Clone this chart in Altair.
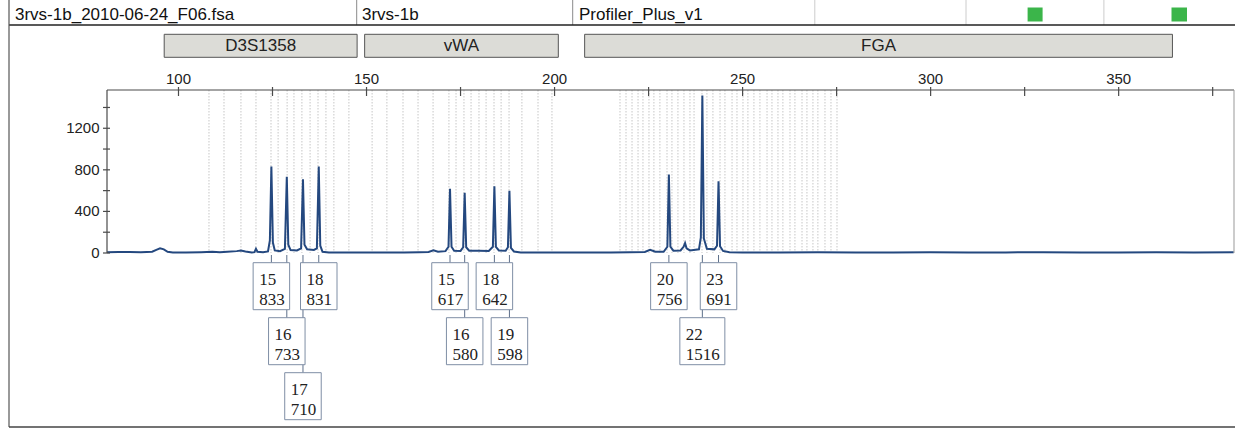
import altair as alt
import pandas as pd

# ---------------- data ----------------
file_name = "3rvs-1b_2010-06-24_F06.fsa"
sample_name = "3rvs-1b"
panel_name = "Profiler_Plus_v1"

marker_names = ["D3S1358", "vWA", "FGA"]
marker_start = [96.2, 149.5, 208.0]
marker_end = [147.5, 201.0, 364.3]

allele_marker = ["D3S1358", "D3S1358", "D3S1358", "D3S1358",
                 "vWA", "vWA", "vWA", "vWA",
                 "FGA", "FGA", "FGA"]
allele_names = ["15", "16", "17", "18", "15", "16", "18", "19", "20", "22", "23"]
allele_bp = [124.7, 128.8, 133.1, 137.3, 172.2, 176.1, 184.0, 188.0, 230.4, 239.3, 243.6]
allele_height = [833, 733, 710, 831, 617, 580, 642, 598, 756, 1516, 691]

bin_bp = [108.1, 112.1, 116.6, 120.6, 124.6, 126.5, 128.9, 130.7, 132.8, 135.0,
          137.1, 139.2, 141.3, 145.3,
          151.5, 155.4, 159.7, 163.7, 167.7, 171.9, 173.8, 175.9, 177.8, 179.9,
          181.8, 183.9, 185.8, 187.9, 191.3, 195.6, 199.3,
          217.4, 219.0, 220.6, 222.2, 223.5, 225.1, 226.4, 228.0, 229.9, 231.2,
          232.8, 234.4, 236.0, 237.1, 239.2, 240.5, 242.1, 244.0, 245.3, 247.2,
          248.5, 250.1, 251.4, 253.0, 254.6, 256.5, 257.8, 259.4, 260.7, 262.6,
          263.9, 265.8, 267.1, 268.7, 270.0, 271.9, 273.5, 275.1]

trace_bp = [81.0, 84.0, 87.0, 90.0, 93.0, 94.1, 95.1, 96.1, 97.1, 98.5,
            102.0, 106.0, 109.0, 111.0, 113.0, 115.5, 116.6, 117.8, 119.5, 120.2,
            120.6, 121.0, 122.5, 123.8, 124.3, 124.7, 125.1, 125.6, 127.0, 128.3,
            128.8, 129.2, 129.8, 131.5, 132.6, 133.1, 133.5, 134.2, 136.0, 136.8,
            137.3, 137.7, 138.3, 140.0, 145.0, 150.0, 155.0, 160.0, 164.0, 166.5,
            167.8, 169.0, 171.0, 171.8, 172.2, 172.6, 173.3, 175.0, 175.7, 176.1,
            176.5, 177.3, 179.9, 182.5, 183.6, 184.0, 184.4, 185.2, 187.0, 187.6,
            188.0, 188.4, 189.2, 191.0, 195.0, 200.0, 205.0, 210.0, 215.0, 220.0,
            224.0, 225.4, 226.8, 229.0, 230.0, 230.4, 230.8, 231.6, 233.5, 234.3,
            234.7, 235.1, 236.0, 238.4, 238.9, 239.3, 239.7, 240.5, 242.5, 243.2,
            243.6, 244.0, 244.8, 246.5, 250.0, 260.0, 270.0, 280.0, 290.0, 300.0,
            310.0, 320.0, 330.0, 340.0, 350.0, 360.0, 370.0, 380.6]
trace_rfu = [8, 10, 9, 7, 12, 30, 45, 35, 12, 6,
             5, 8, 12, 7, 12, 18, 25, 15, 6, 8,
             40, 12, 8, 15, 120, 833, 100, 25, 18, 40,
             733, 80, 28, 25, 45, 710, 80, 35, 30, 45,
             831, 70, 12, 6, 5, 6, 5, 6, 8, 10,
             26, 12, 18, 60, 617, 60, 22, 20, 55, 580,
             55, 22, 22, 20, 60, 642, 60, 25, 22, 55,
             598, 50, 15, 6, 5, 6, 5, 6, 5, 8,
             10, 30, 12, 12, 60, 756, 60, 22, 25, 60,
             95, 45, 25, 35, 150, 1516, 140, 40, 35, 70,
             691, 65, 20, 8, 6, 5, 7, 6, 5, 7,
             5, 6, 8, 6, 5, 7, 6, 8]

x_tick_values = [100, 125, 150, 175, 200, 225, 250, 275, 300, 325, 350, 375]
x_label_values = [100, 150, 200, 250, 300, 350]
y_tick_values = [0, 200, 400, 600, 800, 1000, 1200, 1400]
y_label_values = [0, 400, 800, 1200]

# ---------------- layout ----------------
X_MIN, X_MAX = 80.99, 380.67
W, H = 1127, 163
Y_MAX = 1568
PAD_L, PAD_T = 107, 90
px_per_bp = W / (X_MAX - X_MIN)

SANS = "Liberation Sans"
SERIF = "Liberation Serif"
AXIS_C = "#4a4a4a"

xscale = alt.Scale(domain=[X_MIN, X_MAX], nice=False, zero=False)
yscale = alt.Scale(domain=[0, Y_MAX], nice=False, zero=False)

# label boxes: greedy row assignment to avoid overlaps
rows_right = []
recs = []
for m, a, bp, h in zip(allele_marker, allele_names, allele_bp, allele_height):
    w_px = 8.5 * max(len(a), len(str(h))) + 11
    cx = bp * px_per_bp
    left, right = cx - w_px / 2, cx + w_px / 2
    row = 0
    while row < len(rows_right) and left < rows_right[row] + 2:
        row += 1
    if row == len(rows_right):
        rows_right.append(right)
    else:
        rows_right[row] = right
    top = 172.7 + 55 * row
    recs.append(dict(marker=m, allele=a, height=str(h), bp=bp,
                     xl=bp - w_px / 2 / px_per_bp, xr=bp + w_px / 2 / px_per_bp,
                     top=top, bottom=top + 47, ty1=top + 22, ty2=top + 42, cy0=165))
labels = pd.DataFrame(recs)

trace_df = pd.DataFrame({"bp": trace_bp, "rfu": trace_rfu})
bins_df = pd.DataFrame({"bp": bin_bp})
markers_df = pd.DataFrame({"name": marker_names, "start": marker_start, "end": marker_end})
markers_df["mid"] = (markers_df["start"] + markers_df["end"]) / 2
xt_df = pd.DataFrame({"v": x_tick_values})
xl_df = pd.DataFrame({"v": x_label_values, "t": [str(v) for v in x_label_values]})
yt_df = pd.DataFrame({"v": y_tick_values})
yl_df = pd.DataFrame({"v": y_label_values, "t": [str(v) for v in y_label_values]})
one = pd.DataFrame({"k": [0]})

X = lambda f: alt.X(f, scale=xscale, axis=None)
Y = lambda f: alt.Y(f, scale=yscale, axis=None)

# ---------------- layers ----------------
bins = alt.Chart(bins_df).mark_rule(color="#dcdcdc", strokeWidth=1.6, strokeDash=[1.5, 1.5]).encode(
    x=X("bp:Q"), y=alt.value(0), y2=alt.value(H))

trace = alt.Chart(trace_df).mark_line(color="#24487f", strokeWidth=2).encode(
    x=X("bp:Q"), y=Y("rfu:Q"))

# axes drawn by hand: lines, crossing ticks, labels
top_line = alt.Chart(one).mark_rule(color=AXIS_C, strokeWidth=1.2).encode(
    x=alt.value(0), x2=alt.value(W), y=alt.value(0))
x_ticks = alt.Chart(xt_df).mark_rule(color=AXIS_C, strokeWidth=1.2).encode(
    x=X("v:Q"), y=alt.value(-3), y2=alt.value(6))
x_labels = alt.Chart(xl_df).mark_text(font=SANS, fontSize=15, baseline="alphabetic",
                                      color="#222").encode(
    x=X("v:Q"), y=alt.value(-6.5), text="t:N")

left_line = alt.Chart(one).mark_rule(color=AXIS_C, strokeWidth=1.2).encode(
    x=alt.value(0), y=alt.value(0), y2=alt.value(H))
y_ticks = alt.Chart(yt_df).mark_rule(color=AXIS_C, strokeWidth=1.2).encode(
    y=Y("v:Q"), x=alt.value(-4), x2=alt.value(3))
y_labels = alt.Chart(yl_df).mark_text(font=SANS, fontSize=15, align="right", baseline="middle",
                                      color="#222").encode(
    y=Y("v:Q"), x=alt.value(-7.5), text="t:N")

connectors = alt.Chart(labels).mark_rule(color="#5d6f8a", strokeWidth=1).encode(
    x=X("bp:Q"), y=alt.Y("cy0:Q", scale=None), y2="top:Q")

boxes = alt.Chart(labels).mark_rect(fill="white", stroke="#7f8ea5", strokeWidth=1).encode(
    x=X("xl:Q"), x2="xr:Q", y=alt.Y("top:Q", scale=None), y2="bottom:Q")

txt1 = alt.Chart(labels).mark_text(font=SERIF, fontSize=17, align="left", baseline="alphabetic",
                                   dx=6, color="#222").encode(
    x=X("xl:Q"), y=alt.Y("ty1:Q", scale=None), text="allele:N")
txt2 = alt.Chart(labels).mark_text(font=SERIF, fontSize=17, align="left", baseline="alphabetic",
                                   dx=6, color="#222").encode(
    x=X("xl:Q"), y=alt.Y("ty2:Q", scale=None), text="height:N")

marker_boxes = alt.Chart(markers_df).mark_rect(fill="#dcdcd7", stroke="#555", strokeWidth=1).encode(
    x=X("start:Q"), x2="end:Q", y=alt.value(-55.7), y2=alt.value(-32.7))
marker_text = alt.Chart(markers_df).mark_text(font=SANS, fontSize=17, baseline="middle",
                                              color="#222").encode(
    x=X("mid:Q"), y=alt.value(-44), text="name:N")

# header decorations (pixel positions relative to plot origin)
header_texts = pd.DataFrame({"t": [file_name, sample_name, panel_name],
                             "px": [15 - PAD_L, 362 - PAD_L, 579 - PAD_L]})
header = alt.Chart(header_texts).mark_text(font=SANS, fontSize=17, align="left",
                                           baseline="alphabetic", color="#111").encode(
    x=alt.X("px:Q", scale=None), y=alt.value(20 - PAD_T), text="t:N")

sep_dark = pd.DataFrame({"px": [356.7 - PAD_L, 572.7 - PAD_L]})
sep_light = pd.DataFrame({"px": [814.8 - PAD_L, 966 - PAD_L, 1103.9 - PAD_L]})
seps1 = alt.Chart(sep_dark).mark_rule(color="#8a8a8a", strokeWidth=1).encode(
    x=alt.X("px:Q", scale=None), y=alt.value(-PAD_T), y2=alt.value(25 - PAD_T))
seps2 = alt.Chart(sep_light).mark_rule(color="#cccccc", strokeWidth=1).encode(
    x=alt.X("px:Q", scale=None), y=alt.value(-PAD_T), y2=alt.value(25 - PAD_T))

greens = pd.DataFrame({"x0": [1027.6 - PAD_L, 1171.5 - PAD_L], "x1": [1042.6 - PAD_L, 1187 - PAD_L]})
green_sq = alt.Chart(greens).mark_rect(color="#3bb54a").encode(
    x=alt.X("x0:Q", scale=None), x2="x1:Q", y=alt.value(7.5 - PAD_T), y2=alt.value(21.5 - PAD_T))

header_line = alt.Chart(one).mark_rule(color="#222", strokeWidth=1.5).encode(
    x=alt.value(9 - PAD_L), x2=alt.value(1235 - PAD_L), y=alt.value(25 - PAD_T))
left_frame = alt.Chart(one).mark_rule(color="#555", strokeWidth=1.2).encode(
    x=alt.value(9 - PAD_L), y=alt.value(-PAD_T), y2=alt.value(427 - PAD_T))
bottom_frame = alt.Chart(one).mark_rule(color="#444", strokeWidth=1.5).encode(
    x=alt.value(9 - PAD_L), x2=alt.value(1235 - PAD_L), y=alt.value(427 - PAD_T))
right_frame = alt.Chart(one).mark_rule(color="#999", strokeWidth=1).encode(
    x=alt.value(W), y=alt.value(0), y2=alt.value(H))

chart = alt.layer(
    bins, trace, top_line, x_ticks, x_labels, left_line, y_ticks, y_labels,
    connectors, boxes, txt1, txt2, marker_boxes, marker_text,
    header, seps1, seps2, green_sq, header_line, left_frame, bottom_frame, right_frame
).properties(
    width=W, height=H,
    background="white",
    autosize=alt.AutoSizeParams(type="none"),
    padding={"left": PAD_L, "top": PAD_T, "right": 1, "bottom": 428 - PAD_T - H},
).configure_view(stroke=None)

chart.save("out.html", embed_options={"renderer": "svg", "actions": False})
